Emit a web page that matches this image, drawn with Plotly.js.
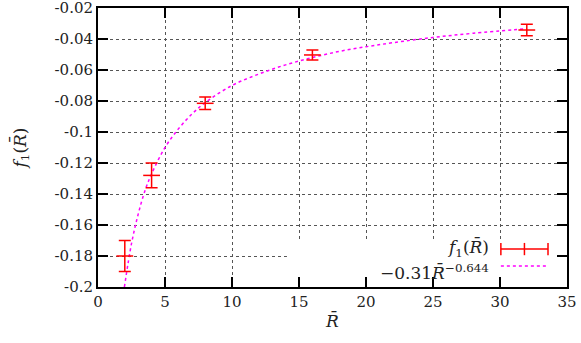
<!DOCTYPE html>
<html>
<head>
<meta charset="utf-8">
<script src="https://cdn.plot.ly/plotly-3.0.1.min.js"></script>
<style>
  body { margin: 0; background: white; }
  #myGraph { width: 581px; height: 343px; }
</style>
</head>
<body>
<div id="myGraph"></div>
<script>
// measured points f1(R) with errors
let R_vals = [2, 4, 8, 16, 32];
let f1_vals = [-0.180, -0.128, -0.0815, -0.0503, -0.0342];
let f1_errs = [0.010, 0.008, 0.004, 0.0032, 0.0037];

// fit curve
let fit_R = [1.97, 2.5, 3, 3.5, 4, 5, 6, 7, 8, 10, 12, 14, 16, 18, 20, 22, 25, 28, 32];
let fit_f = [-0.200, -0.172, -0.153, -0.138, -0.127, -0.110, -0.098, -0.0885, -0.081,
             -0.070, -0.0626, -0.0567, -0.052, -0.048, -0.045, -0.0424, -0.039, -0.0363, -0.0333];

// tick labels
let x_ticks = [0, 5, 10, 15, 20, 25, 30, 35];
let y_ticks = [-0.2, -0.18, -0.16, -0.14, -0.12, -0.1, -0.08, -0.06, -0.04, -0.02];
let y_ticktext = ["-0.2", "-0.18", "-0.16", "-0.14", "-0.12", "-0.1", "-0.08", "-0.06", "-0.04", "-0.02"];

let serif = "'DejaVu Serif', serif";

let trace_data = {
    type: "scatter",
    mode: "markers",
    x: R_vals,
    y: f1_vals,
    error_y: {
        type: "data",
        array: f1_errs,
        visible: true,
        color: "#ff0000",
        thickness: 1.5,
        width: 6
    },
    marker: {
        symbol: "line-ew",
        size: 12,
        line: { color: "#ff0000", width: 1.5 }
    },
    showlegend: false
};

let trace_fit = {
    type: "scatter",
    mode: "lines",
    x: fit_R,
    y: fit_f,
    line: { color: "#ff00ff", width: 1.5, dash: "dot", shape: "spline" },
    showlegend: false
};

let axisCommon = {
    showline: true,
    linecolor: "black",
    linewidth: 2,
    mirror: "allticks",
    ticks: "inside",
    ticklen: 10,
    tickwidth: 2,
    tickcolor: "black",
    showgrid: true,
    gridcolor: "#555555",
    gridwidth: 1,
    griddash: "dot",
    zeroline: false,
    ticklabeloverflow: "allow",
    tickfont: { family: serif, size: 15, color: "#222" }
};

// legend drawn gnuplot-style: text left, sample on the right
let lx0 = 0.859, lx1 = 0.9595, ly1 = 0.136, ly2 = 0.075, capH = 0.022;

let layout = {
    width: 581,
    height: 343,
    margin: { l: 98, r: 14, t: 8, b: 56 },
    paper_bgcolor: "white",
    plot_bgcolor: "white",
    showlegend: false,
    font: { family: serif },
    xaxis: Object.assign({}, axisCommon, {
        range: [0, 35],
        tickvals: x_ticks,
        title: { text: "<i>R̄</i>", font: { family: serif, size: 17, color: "#222" }, standoff: 5 }
    }),
    yaxis: Object.assign({}, axisCommon, {
        range: [-0.2, -0.02],
        tickvals: y_ticks,
        ticktext: y_ticktext,
        title: { text: "<i>f</i><sub>1</sub>(<i>R̄</i>)", font: { family: serif, size: 17, color: "#222" }, standoff: 24 }
    }),
    shapes: [
        // key box blanks the grid behind it
        { type: "rect", layer: "between", xref: "x", yref: "y", x0: 14.1, x1: 34.5, y0: -0.1995, y1: -0.1695,
          fillcolor: "white", line: { width: 0 } },
        { type: "line", xref: "paper", yref: "paper", x0: lx0, x1: lx1, y0: ly1, y1: ly1, line: { color: "#ff0000", width: 1.5 } },
        { type: "line", xref: "paper", yref: "paper", x0: lx0, x1: lx0, y0: ly1 - capH, y1: ly1 + capH, line: { color: "#ff0000", width: 1.5 } },
        { type: "line", xref: "paper", yref: "paper", x0: lx1, x1: lx1, y0: ly1 - capH, y1: ly1 + capH, line: { color: "#ff0000", width: 1.5 } },
        { type: "line", xref: "paper", yref: "paper", x0: (lx0 + lx1) / 2, x1: (lx0 + lx1) / 2, y0: ly1 - capH, y1: ly1 + capH, line: { color: "#ff0000", width: 1.5 } },
        { type: "line", xref: "paper", yref: "paper", x0: lx0, x1: lx1, y0: ly2, y1: ly2, line: { color: "#ff00ff", width: 1.5, dash: "dot" } }
    ],
    annotations: [
        { xref: "paper", yref: "paper", x: 0.838, y: ly1 + 0.005, xanchor: "right", yanchor: "middle", showarrow: false,
          text: "<i>f</i><sub>1</sub>(<i>R̄</i>)", font: { family: serif, size: 17, color: "#222" } },
        { xref: "paper", yref: "paper", x: 0.838, y: ly2 - 0.02, xanchor: "right", yanchor: "middle", showarrow: false,
          text: "−0.31<i>R̄</i><sup>−0.644</sup>", font: { family: serif, size: 17, color: "#222" } }
    ]
};

Plotly.newPlot(document.getElementById("myGraph"), [trace_fit, trace_data], layout, { staticPlot: true });
</script>
</body>
</html>
